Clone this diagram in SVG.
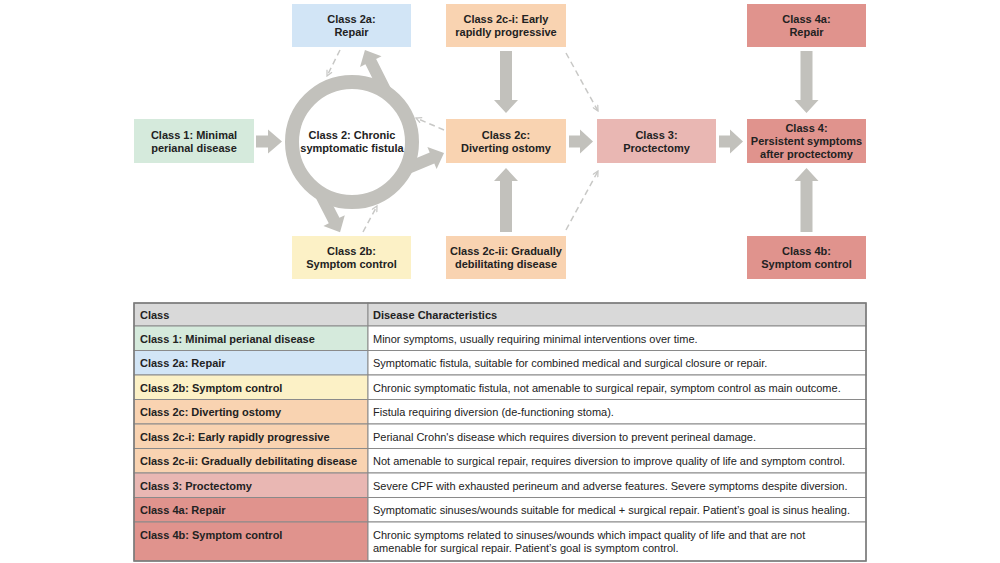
<svg xmlns="http://www.w3.org/2000/svg" width="1000" height="563" viewBox="0 0 1000 563">
<defs>
<style>
.nt{font-family:"Liberation Sans",Arial,sans-serif;font-size:11px;font-weight:bold;fill:#222;text-anchor:middle}
.tb{font-family:"Liberation Sans",Arial,sans-serif;font-size:11px;font-weight:bold;fill:#222}
.tr{font-family:"Liberation Sans",Arial,sans-serif;font-size:11px;fill:#222}
.thick{fill:#c2c1bc}
.dash{fill:none;stroke:#c8c8c6;stroke-width:1.5;stroke-dasharray:6 4;marker-end:url(#ah)}
.g{fill:#d5eadc}.b{fill:#d2e5f6}.y{fill:#fcf1c6}.o{fill:#f9d3b1}.p{fill:#e9b7b3}.r{fill:#e0938d}
.cell{stroke:#8a8a8a;stroke-width:1}
</style>
<marker id="ah" viewBox="0 0 10 10" refX="9" refY="5" markerWidth="7" markerHeight="7" markerUnits="userSpaceOnUse" orient="auto">
<path d="M1,1 L9,5 L1,9" fill="none" stroke="#c8c8c6" stroke-width="1.8"/>
</marker>
</defs>
<rect width="1000" height="563" fill="#fff"/>

<g id="connectors">
<polygon class="thick" points="256,135.5 268,135.5 268,129.5 282,141.5 268,153.5 268,147.5 256,147.5"/>
<polygon class="thick" points="569,135.5 580,135.5 580,129.5 593,141.5 580,153.5 580,147.5 569,147.5"/>
<polygon class="thick" points="719,135.5 730,135.5 730,129.5 743,141.5 730,153.5 730,147.5 719,147.5"/>
<polygon class="thick" points="500,51 512,51 512,100 518,100 506,113 494,100 500,100"/>
<polygon class="thick" points="500,232 512,232 512,181 518,181 506,168 494,181 500,181"/>
<polygon class="thick" points="800.5,51 812.5,51 812.5,100 818.5,100 806.5,113 794.5,100 800.5,100"/>
<polygon class="thick" points="800.5,232 812.5,232 812.5,181 818.5,181 806.5,168 794.5,181 800.5,181"/>
<polygon class="thick" transform="translate(386,92) rotate(-116.6)" points="0,-6 34,-6 34,-12 47,0 34,12 34,6 0,6"/>
<polygon class="thick" transform="translate(408,168) rotate(-22.6)" points="0,-6 26,-6 26,-12 39,0 26,12 26,6 0,6"/>
<polygon class="thick" transform="translate(320,193) rotate(62.9)" points="0,-6 31,-6 31,-12 44,0 31,12 31,6 0,6"/>
<line class="dash" x1="340" y1="50" x2="327" y2="76"/>
<line class="dash" x1="444" y1="130" x2="416" y2="118"/>
<line class="dash" x1="363" y1="232" x2="377" y2="206"/>
<line class="dash" x1="566" y1="53" x2="598" y2="111"/>
<line class="dash" x1="566" y1="230" x2="598" y2="171"/>
</g>

<g id="ring">
<circle cx="352" cy="142" r="60" fill="none" stroke="#c2c1bc" stroke-width="14"/>
<text class="nt" x="352" y="139">Class 2: Chronic</text>
<text class="nt" x="352" y="152">symptomatic fistula</text>
</g>

<g id="class1"><rect class="g" x="134" y="119" width="120" height="44"/>
<text class="nt" x="194" y="139">Class 1: Minimal</text><text class="nt" x="194" y="152">perianal disease</text></g>
<g id="class2a"><rect class="b" x="292" y="4" width="119" height="43"/>
<text class="nt" x="351.5" y="23">Class 2a:</text><text class="nt" x="351.5" y="36">Repair</text></g>
<g id="class2b"><rect class="y" x="292" y="236" width="119" height="43"/>
<text class="nt" x="351.5" y="255">Class 2b:</text><text class="nt" x="351.5" y="268">Symptom control</text></g>
<g id="class2ci"><rect class="o" x="446" y="4" width="120" height="43"/>
<text class="nt" x="506" y="23">Class 2c-i: Early</text><text class="nt" x="506" y="36">rapidly progressive</text></g>
<g id="class2c"><rect class="o" x="446" y="119" width="120" height="44"/>
<text class="nt" x="506" y="139">Class 2c:</text><text class="nt" x="506" y="152">Diverting ostomy</text></g>
<g id="class2cii"><rect class="o" x="446" y="236" width="120" height="43"/>
<text class="nt" x="506" y="255">Class 2c-ii: Gradually</text><text class="nt" x="506" y="268">debilitating disease</text></g>
<g id="class3"><rect class="p" x="597" y="119" width="119" height="44"/>
<text class="nt" x="656.5" y="139">Class 3:</text><text class="nt" x="656.5" y="152">Proctectomy</text></g>
<g id="class4a"><rect class="r" x="747" y="4" width="119" height="43"/>
<text class="nt" x="806.5" y="23">Class 4a:</text><text class="nt" x="806.5" y="36">Repair</text></g>
<g id="class4"><rect class="r" x="747" y="119" width="119" height="44"/>
<text class="nt" x="806.5" y="132">Class 4:</text><text class="nt" x="806.5" y="145">Persistent symptoms</text><text class="nt" x="806.5" y="158">after proctectomy</text></g>
<g id="class4b"><rect class="r" x="747" y="236" width="119" height="43"/>
<text class="nt" x="806.5" y="255">Class 4b:</text><text class="nt" x="806.5" y="268">Symptom control</text></g>

<g id="table">
<rect class="cell" x="134" y="303" width="234" height="23" fill="#d9d9d9"/>
<rect class="cell" x="368" y="303" width="498" height="23" fill="#d9d9d9"/>
<text class="tb" x="140" y="319">Class</text>
<text class="tb" x="373" y="319">Disease Characteristics</text>

<rect class="cell g" x="134" y="326" width="234" height="24.5"/>
<rect class="cell" x="368" y="326" width="498" height="24.5" fill="#fff"/>
<text class="tb" x="140" y="342.5">Class 1: Minimal perianal disease</text>
<text class="tr" x="373" y="342.5">Minor symptoms, usually requiring minimal interventions over time.</text>

<rect class="cell b" x="134" y="350.5" width="234" height="24.5"/>
<rect class="cell" x="368" y="350.5" width="498" height="24.5" fill="#fff"/>
<text class="tb" x="140" y="367">Class 2a: Repair</text>
<text class="tr" x="373" y="367">Symptomatic fistula, suitable for combined medical and surgical closure or repair.</text>

<rect class="cell y" x="134" y="375" width="234" height="24.5"/>
<rect class="cell" x="368" y="375" width="498" height="24.5" fill="#fff"/>
<text class="tb" x="140" y="391.5">Class 2b: Symptom control</text>
<text class="tr" x="373" y="391.5">Chronic symptomatic fistula, not amenable to surgical repair, symptom control as main outcome.</text>

<rect class="cell o" x="134" y="399.5" width="234" height="24.5"/>
<rect class="cell" x="368" y="399.5" width="498" height="24.5" fill="#fff"/>
<text class="tb" x="140" y="416">Class 2c: Diverting ostomy</text>
<text class="tr" x="373" y="416">Fistula requiring diversion (de-functioning stoma).</text>

<rect class="cell o" x="134" y="424" width="234" height="24.5"/>
<rect class="cell" x="368" y="424" width="498" height="24.5" fill="#fff"/>
<text class="tb" x="140" y="440.5">Class 2c-i: Early rapidly progressive</text>
<text class="tr" x="373" y="440.5">Perianal Crohn's disease which requires diversion to prevent perineal damage.</text>

<rect class="cell o" x="134" y="448.5" width="234" height="24.5"/>
<rect class="cell" x="368" y="448.5" width="498" height="24.5" fill="#fff"/>
<text class="tb" x="140" y="465">Class 2c-ii: Gradually debilitating disease</text>
<text class="tr" x="373" y="465">Not amenable to surgical repair, requires diversion to improve quality of life and symptom control.</text>

<rect class="cell p" x="134" y="473" width="234" height="24.5"/>
<rect class="cell" x="368" y="473" width="498" height="24.5" fill="#fff"/>
<text class="tb" x="140" y="489.5">Class 3: Proctectomy</text>
<text class="tr" x="373" y="489.5">Severe CPF with exhausted perineum and adverse features. Severe symptoms despite diversion.</text>

<rect class="cell r" x="134" y="497.5" width="234" height="24.5"/>
<rect class="cell" x="368" y="497.5" width="498" height="24.5" fill="#fff"/>
<text class="tb" x="140" y="514">Class 4a: Repair</text>
<text class="tr" x="373" y="514">Symptomatic sinuses/wounds suitable for medical + surgical repair. Patient’s goal is sinus healing.</text>

<rect class="cell r" x="134" y="522" width="234" height="39"/>
<rect class="cell" x="368" y="522" width="498" height="39" fill="#fff"/>
<text class="tb" x="140" y="539">Class 4b: Symptom control</text>
<text class="tr" x="373" y="539">Chronic symptoms related to sinuses/wounds which impact quality of life and that are not</text>
<text class="tr" x="373" y="552">amenable for surgical repair. Patient’s goal is symptom control.</text>
<rect x="134" y="303" width="732" height="258" fill="none" stroke="#7a7a7a" stroke-width="1.5"/>
</g>
</svg>
